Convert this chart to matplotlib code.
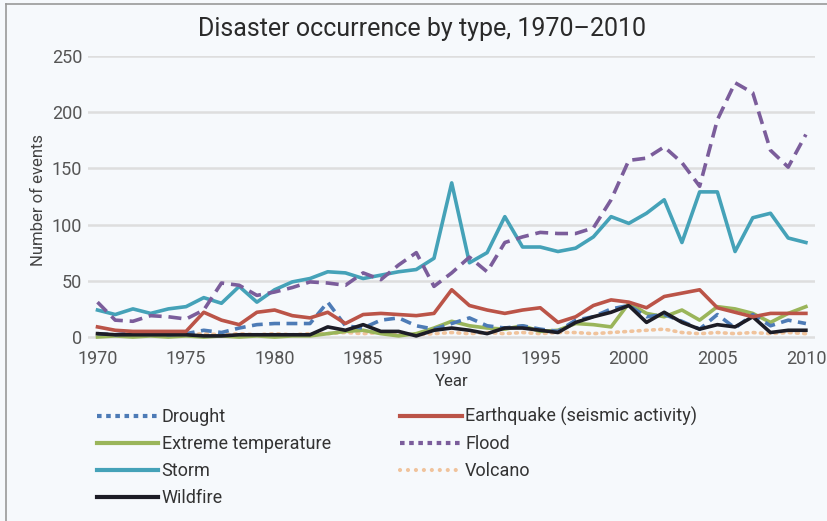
import matplotlib
matplotlib.use('Agg')
import matplotlib.pyplot as plt
from matplotlib.lines import Line2D

years = list(range(1970, 2011))

storm = [24, 20, 25, 21, 25, 27, 35, 30, 45, 31, 42, 49, 52, 58, 57, 52, 55, 58, 60, 70,
         137, 66, 75, 107, 80, 80, 76, 79, 89, 107, 101, 110, 122, 84, 129, 129, 76, 106, 110, 88, 84]
flood = [31, 15, 14, 19, 18, 16, 24, 48, 46, 37, 40, 44, 49, 48, 46, 57, 51, 64, 75, 45,
         57, 71, 58, 84, 89, 93, 92, 92, 97, 122, 157, 159, 169, 155, 134, 193, 226, 217, 166, 151, 180]
earthquake = [9, 6, 5, 5, 5, 5, 22, 15, 11, 22, 24, 19, 17, 22, 12, 20, 21, 20, 19, 21,
              42, 28, 24, 21, 24, 26, 13, 18, 28, 33, 31, 26, 36, 39, 42, 26, 22, 18, 21, 21, 21]
drought = [3, 2, 4, 3, 2, 3, 6, 4, 8, 11, 12, 12, 12, 31, 10, 8, 15, 17, 10, 7,
           12, 17, 10, 8, 10, 7, 5, 15, 18, 25, 28, 18, 20, 14, 7, 20, 8, 20, 10, 15, 12]
extreme_temp = [0, 1, 0, 1, 0, 1, 0, 1, 0, 1, 0, 1, 1, 3, 5, 6, 3, 1, 3, 8,
                14, 10, 8, 7, 10, 5, 6, 12, 11, 9, 30, 21, 18, 24, 15, 27, 25, 21, 13, 21, 27]
volcano = [3, 2, 3, 2, 3, 2, 3, 2, 3, 2, 3, 2, 3, 3, 4, 3, 4, 3, 2, 3,
           4, 3, 4, 3, 4, 3, 4, 4, 3, 4, 5, 6, 7, 4, 3, 4, 3, 4, 3, 4, 3]
wildfire = [3, 2, 2, 2, 2, 2, 1, 1, 2, 2, 2, 2, 2, 9, 6, 11, 5, 5, 1, 6,
            8, 6, 3, 8, 8, 6, 4, 13, 18, 22, 28, 13, 22, 13, 7, 11, 9, 18, 4, 6, 6]

bg = '#f6f9fc'
plt.rcParams['font.family'] = ['Roboto', 'DejaVu Sans']

fig = plt.figure(figsize=(8.28, 5.21), dpi=100, facecolor=bg)
ax = fig.add_axes([0.106, 0.338, 0.878, 0.555], facecolor=bg)

# series: (label, values, colour, linestyle)
series = [
    ('Drought', drought, '#4d7bb6', (0, (3.0, 1.8))),
    ('Earthquake (seismic activity)', earthquake, '#bb5448', '-'),
    ('Extreme temperature', extreme_temp, '#9ab55a', '-'),
    ('Flood', flood, '#7b5d9b', (0, (3.6, 1.9))),
    ('Storm', storm, '#45a2b8', '-'),
    ('Volcano', volcano, '#f0c39c', (0, (0.5, 1.5))),
    ('Wildfire', wildfire, '#1c1c26', '-'),
]

draw_order = ['Volcano', 'Extreme temperature', 'Drought', 'Wildfire',
              'Earthquake (seismic activity)', 'Storm', 'Flood']
for name, vals, col, ls in series:
    z = 3 + draw_order.index(name)
    cap = 'round' if name == 'Volcano' else 'butt'
    ax.plot(years, vals, color=col, linestyle=ls, linewidth=2.6, zorder=z,
            dash_capstyle=cap, solid_joinstyle='round')

ax.set_xlim(1969.45, 2010.5)
ax.set_ylim(-7, 250)
ax.set_xticks(range(1970, 2011, 5))
ax.set_yticks(range(0, 251, 50))
ax.grid(axis='y', color='#dedede', linewidth=1.8, zorder=1)
for s in ax.spines.values():
    s.set_visible(False)
ax.tick_params(length=0, labelsize=13, colors='#555555', pad=4)
ax.set_xlabel('Year', fontsize=12, color='#333333', labelpad=4)
ax.set_ylabel('Number of events', fontsize=12, color='#444444', labelpad=4)

fig.text(0.51, 0.945, 'Disaster occurrence by type, 1970\u20132010', ha='center', va='center',
         fontsize=18, color='#2a2a2a')

# legend handles with their own dash patterns
handles = []
for name, vals, col, ls in series:
    if name in ('Drought', 'Flood'):
        h = Line2D([], [], color=col, linewidth=3, linestyle=(0, (1.1, 1.1)))
    elif name == 'Volcano':
        h = Line2D([], [], color=col, linewidth=3, linestyle=(0, (0.01, 1.9)), dash_capstyle='round')
    else:
        h = Line2D([], [], color=col, linewidth=3)
    handles.append(h)
names = [s[0] for s in series]
order = [0, 2, 4, 6, 1, 3, 5]
fig.legend([handles[i] for i in order], [names[i] for i in order], ncol=2,
           loc='upper left', bbox_to_anchor=(0.097, 0.25), frameon=False,
           fontsize=13, handlelength=3.4, handletextpad=0.2, columnspacing=3.85,
           labelspacing=0.5, labelcolor='#333333')

# outer frame lines on the top and left
fig.add_artist(Line2D([0.007, 0.007], [0, 0.993], transform=fig.transFigure, color='#999999', linewidth=1.2))
fig.add_artist(Line2D([0.007, 1.0], [0.993, 0.993], transform=fig.transFigure, color='#999999', linewidth=1.2))

fig.savefig('out.png', dpi=100, facecolor=bg)
